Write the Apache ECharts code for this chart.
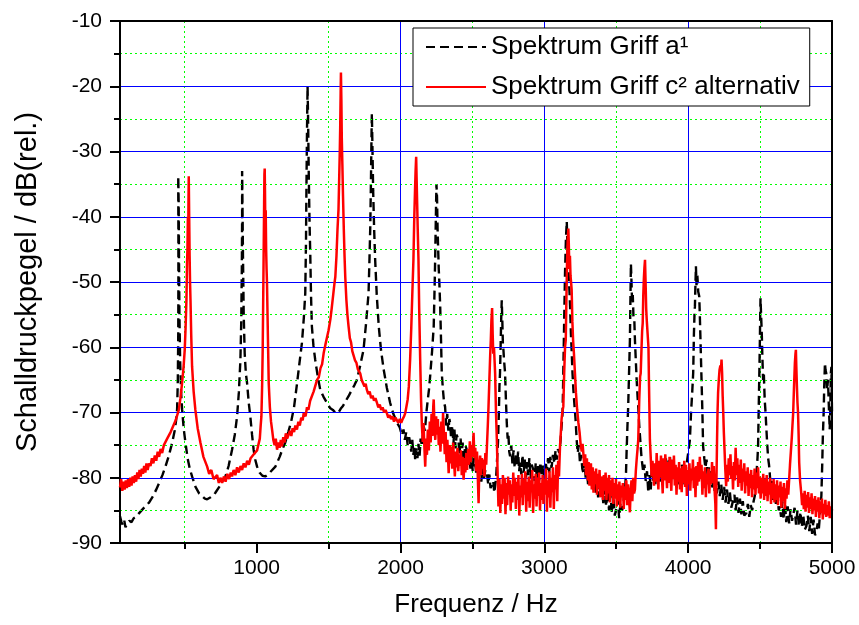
<!DOCTYPE html>
<html>
<head>
<meta charset="utf-8">
<script src="https://cdn.jsdelivr.net/npm/echarts@6/dist/echarts.min.js"></script>
<style>
html,body{margin:0;padding:0;background:#fff;}
#chart{width:859px;height:625px;}
</style>
</head>
<body>
<div id="chart"></div>
<script>
// ---- Data (frequency Hz, level dB rel.) ----
const seriesNames = ['Spektrum Griff a\u00B9', 'Spektrum Griff c\u00B2 alternativ'];
const xMajorTicks = [1000, 2000, 3000, 4000, 5000];
const xMinorTicks = [500, 1500, 2500, 3500, 4500];
const yRange = [-90, -10];
const xRange = [50, 5000];

const spectrumA = [
[50,-85.9],[60,-86.8],[70,-87.3],[80,-86.6],[88,-87.6],[100,-87.0],[115,-86.6],[130,-86.8],[145,-86.2],[160,-86.0],[180,-85.5],[200,-85.0],[225,-84.4],[252,-83.8],[280,-82.8],[300,-81.9],[322,-80.8],[345,-79.6],[366,-78.3],[390,-76.6],[413,-74.6],[430,-72.8],[440,-71.2],[447,-69.5],[452,-65],[455,-58],[456,-50],[456,-42],[455,-36],[455,-33.8],[458,-38],[460,-46],[463,-55],[468,-62],[475,-67],[482,-69.6],[493,-72.5],[505,-74.6],[520,-77],[535,-78.6],[551,-79.8],[575,-81.4],[600,-82.4],[621,-82.8],[640,-83.2],[656,-83.3],[680,-83.0],[700,-82.7],[713,-82.3],[740,-81.4],[760,-80.6],[783,-79.8],[805,-78.2],[829,-75.7],[848,-73.4],[864,-70.6],[876,-67],[887,-62],[893,-56],[897,-48],[899,-40],[899,-33],[901,-37],[905,-46],[910,-55],[917,-61],[925,-64],[933,-65.4],[945,-68.5],[956,-70.6],[968,-73.4],[979,-75.7],[990,-77.2],[1003,-78.3],[1020,-79.2],[1040,-79.7],[1060,-79.8],[1080,-79.5],[1100,-79.0],[1130,-78.3],[1160,-76.8],[1180,-75.6],[1199,-74.6],[1220,-73.0],[1240,-71.4],[1260,-69.2],[1281,-65.5],[1300,-62.0],[1315,-59.3],[1328,-55.5],[1338,-51.7],[1343,-44],[1346,-36],[1350,-27],[1354,-20],[1357,-24],[1362,-33],[1367,-40],[1373,-46],[1378,-52],[1384,-56.8],[1395,-59.8],[1407,-61.9],[1425,-64.5],[1442,-66.5],[1465,-67.6],[1488,-68.5],[1510,-69.3],[1530,-69.6],[1550,-70.1],[1569,-70.0],[1585,-69.4],[1600,-69.0],[1620,-68.2],[1639,-67.5],[1660,-66.6],[1680,-65.8],[1697,-65.0],[1720,-62.8],[1743,-60.4],[1760,-56.5],[1778,-51.7],[1785,-46],[1790,-41.5],[1795,-34],[1799,-27],[1801,-24.2],[1804,-28],[1810,-36],[1817,-42],[1824,-46.6],[1835,-52],[1849,-56.8],[1865,-60.5],[1883,-63.4],[1905,-66.2],[1928,-68.5],[1950,-70.2],[1977,-71.6],[1995,-72.3],[2010,-73.5],[2021,-72.6],[2030,-74.2],[2040,-73.0],[2050,-75.0],[2060,-73.8],[2067,-74.6],[2075,-76.0],[2082,-74.2],[2090,-76.5],[2097,-75.2],[2102,-77.2],[2110,-75.5],[2118,-77.0],[2125,-74.8],[2133,-76.6],[2140,-74.0],[2150,-75.2],[2160,-72.1],[2170,-72.8],[2180,-70.0],[2190,-68.0],[2198,-66.5],[2206,-64.5],[2220,-60.5],[2231,-56.8],[2238,-50],[2241,-46.6],[2246,-40],[2250,-35.0],[2254,-37],[2258,-42],[2262,-45],[2266,-48],[2270,-50],[2276,-53.7],[2282,-59],[2287,-63.9],[2295,-66.5],[2303,-68.5],[2310,-69.1],[2318,-72.0],[2325,-70.2],[2333,-72.8],[2340,-71.0],[2345,-71.6],[2352,-74.0],[2360,-72.0],[2368,-74.8],[2375,-72.6],[2383,-75.5],[2390,-73.4],[2403,-74.2],[2410,-76.5],[2418,-74.0],[2425,-76.8],[2432,-74.6],[2440,-77.5],[2450,-75.0],[2461,-75.7],[2470,-78.0],[2478,-76.0],[2486,-78.6],[2494,-76.5],[2502,-79.0],[2510,-77.0],[2519,-77.7],[2528,-79.6],[2536,-77.5],[2545,-80.0],[2553,-78.0],[2562,-80.6],[2570,-78.4],[2580,-80.2],[2590,-78.8],[2600,-79.2],[2610,-81.0],[2618,-79.5],[2626,-81.6],[2635,-81.3],[2645,-80.5],[2652,-82.3],[2658,-82.3],[2665,-80.0],[2672,-77.0],[2678,-74.5],[2684,-70.0],[2688,-66.0],[2692,-63.9],[2697,-59.0],[2701,-55.0],[2704,-52.8],[2708,-56.0],[2712,-59.5],[2716,-60.5],[2720,-62.0],[2727,-63.9],[2733,-68.0],[2739,-71.6],[2745,-74.0],[2750,-73.2],[2756,-76.0],[2762,-76.7],[2770,-75.0],[2778,-77.8],[2786,-75.8],[2794,-78.5],[2802,-76.2],[2810,-78.0],[2818,-76.0],[2825,-79.0],[2831,-77.7],[2840,-79.5],[2848,-76.5],[2856,-79.2],[2864,-77.2],[2872,-80.0],[2880,-77.6],[2888,-79.6],[2896,-77.0],[2904,-80.2],[2912,-78.0],[2924,-78.8],[2932,-80.5],[2940,-77.8],[2948,-80.0],[2956,-78.2],[2964,-80.4],[2972,-77.6],[2980,-79.8],[2990,-78.0],[3000,-80.0],[3008,-77.5],[3017,-78.8],[3026,-77.0],[3034,-79.2],[3042,-76.8],[3050,-78.5],[3060,-76.5],[3070,-77.8],[3078,-75.8],[3086,-77.2],[3095,-75.6],[3104,-76.2],[3112,-74.5],[3121,-74.2],[3127,-70.0],[3132,-63.9],[3138,-56.0],[3144,-48.6],[3150,-43.5],[3156,-40.7],[3160,-44.0],[3164,-47.0],[3168,-45.5],[3172,-50.0],[3176,-52.0],[3179,-53.7],[3185,-58.0],[3190,-60.5],[3196,-64.0],[3202,-66.5],[3210,-69.0],[3217,-71.0],[3225,-74.2],[3232,-76.2],[3240,-75.0],[3248,-77.8],[3256,-76.5],[3264,-78.6],[3271,-79.2],[3280,-77.5],[3288,-80.2],[3296,-78.6],[3304,-81.0],[3312,-79.0],[3320,-80.8],[3330,-79.2],[3341,-81.8],[3350,-79.6],[3358,-82.4],[3366,-80.0],[3374,-83.0],[3382,-80.6],[3390,-82.8],[3400,-81.2],[3410,-83.9],[3420,-81.6],[3430,-84.4],[3440,-82.0],[3450,-85.0],[3460,-82.6],[3470,-85.4],[3480,-83.0],[3490,-85.8],[3503,-85.9],[3512,-83.4],[3520,-86.2],[3530,-83.8],[3540,-85.0],[3549,-84.4],[3556,-82.0],[3562,-81.5],[3568,-79.2],[3572,-76.0],[3578,-72.0],[3583,-69.1],[3589,-64.0],[3595,-58.9],[3599,-52.0],[3602,-47.2],[3606,-50.0],[3610,-53.0],[3615,-52.0],[3620,-55.5],[3626,-56.0],[3630,-58.9],[3636,-62.0],[3642,-65.0],[3648,-67.5],[3653,-69.1],[3660,-72.0],[3668,-74.5],[3676,-77.0],[3688,-79.2],[3696,-78.0],[3705,-80.5],[3714,-79.0],[3723,-82.3],[3732,-79.6],[3740,-81.8],[3748,-78.4],[3756,-80.6],[3764,-78.0],[3772,-81.0],[3780,-78.6],[3788,-80.2],[3796,-77.6],[3804,-80.8],[3812,-78.2],[3820,-80.4],[3828,-77.4],[3836,-79.8],[3845,-77.0],[3853,-80.0],[3862,-77.8],[3873,-76.7],[3882,-79.6],[3890,-77.4],[3898,-80.2],[3906,-78.0],[3914,-80.6],[3922,-78.4],[3930,-81.0],[3940,-78.6],[3948,-80.2],[3956,-78.0],[3965,-79.2],[3975,-81.0],[3985,-78.6],[3995,-77.0],[4003,-75.8],[4012,-74.2],[4020,-70.0],[4028,-67.0],[4035,-63.9],[4040,-58.0],[4044,-55.0],[4047,-53.7],[4051,-50.0],[4054,-47.6],[4058,-50.5],[4064,-49.0],[4070,-51.5],[4077,-52.2],[4081,-55.0],[4087,-60.0],[4093,-65.0],[4099,-70.0],[4104,-75.2],[4112,-77.0],[4120,-78.5],[4128,-77.2],[4136,-80.0],[4144,-78.4],[4151,-80.3],[4160,-79.0],[4168,-81.5],[4176,-79.6],[4184,-82.0],[4192,-80.0],[4200,-82.4],[4210,-80.6],[4220,-82.8],[4230,-81.0],[4240,-83.4],[4250,-81.4],[4260,-83.8],[4270,-81.8],[4280,-84.0],[4290,-82.2],[4300,-84.6],[4313,-84.4],[4322,-82.6],[4330,-85.0],[4340,-83.0],[4350,-85.4],[4360,-83.2],[4370,-85.6],[4380,-83.6],[4390,-85.8],[4405,-85.4],[4415,-84.0],[4425,-86.0],[4435,-84.2],[4445,-85.0],[4455,-83.6],[4463,-82.8],[4470,-81.0],[4476,-79.0],[4482,-77.0],[4486,-75.2],[4490,-70.0],[4494,-65.0],[4498,-59.9],[4501,-55.0],[4503,-52.5],[4507,-55.0],[4512,-58.0],[4516,-61.5],[4521,-65.0],[4526,-64.0],[4532,-68.0],[4538,-70.0],[4544,-72.6],[4550,-75.0],[4556,-77.0],[4562,-78.0],[4567,-79.2],[4575,-82.0],[4583,-80.5],[4591,-83.4],[4600,-81.6],[4610,-84.0],[4620,-82.4],[4630,-85.0],[4637,-84.4],[4646,-86.0],[4655,-83.6],[4664,-86.4],[4673,-84.0],[4682,-86.8],[4692,-84.4],[4702,-87.0],[4712,-84.8],[4722,-86.6],[4730,-86.4],[4740,-84.6],[4750,-87.2],[4760,-85.0],[4770,-87.4],[4780,-85.2],[4790,-87.6],[4800,-85.6],[4810,-88.0],[4822,-87.4],[4832,-85.8],[4842,-88.2],[4852,-86.0],[4862,-88.6],[4872,-86.4],[4882,-88.8],[4892,-88.4],[4900,-87.0],[4908,-88.0],[4915,-86.0],[4920,-84.6],[4926,-82.8],[4932,-78.0],[4936,-74.0],[4942,-70.0],[4946,-66.0],[4951,-62.4],[4955,-63.5],[4960,-64.0],[4966,-66.5],[4972,-65.0],[4978,-69.0],[4984,-72.6],[4988,-70.0],[4992,-64.0],[4996,-63.0],[5000,-70.0]
];

const spectrumC = [
[50,-81.5],[58,-80.2],[66,-82.0],[74,-80.6],[82,-81.8],[90,-80.4],[98,-81.6],[106,-80.2],[114,-81.4],[122,-80.0],[130,-81.2],[138,-79.8],[146,-80.8],[154,-79.6],[162,-80.6],[170,-79.2],[178,-80.2],[186,-78.8],[194,-79.8],[202,-78.6],[210,-79.4],[218,-78.2],[226,-79.2],[234,-77.8],[242,-78.8],[252,-77.8],[262,-78.2],[272,-77.0],[282,-77.8],[292,-76.6],[302,-77.4],[312,-76.0],[322,-76.8],[332,-75.6],[343,-76.2],[355,-75.0],[366,-75.2],[378,-74.0],[390,-74.2],[402,-73.0],[413,-73.1],[425,-71.8],[437,-71.2],[448,-70.4],[459,-69.6],[470,-67.8],[482,-65.4],[492,-63.0],[500,-60.4],[506,-57.0],[512,-52.7],[516,-47.0],[519,-45.0],[522,-40.0],[524,-44.0],[526,-38.0],[528,-33.8],[531,-40.0],[534,-46.0],[537,-50.0],[540,-52.7],[545,-58.0],[551,-62.9],[562,-66.8],[574,-69.6],[590,-72.4],[609,-74.6],[630,-76.8],[656,-78.3],[670,-79.4],[685,-78.8],[700,-80.2],[713,-80.3],[725,-79.6],[737,-80.8],[748,-80.0],[760,-80.8],[772,-79.8],[784,-80.6],[796,-79.4],[808,-80.2],[820,-79.2],[829,-79.8],[840,-78.8],[852,-79.6],[864,-78.4],[876,-79.2],[888,-78.2],[899,-78.8],[910,-77.8],[922,-78.4],[934,-77.4],[946,-78.0],[958,-77.0],[968,-77.2],[980,-76.4],[992,-76.6],[1003,-75.8],[1014,-75.7],[1022,-74.0],[1028,-72.0],[1033,-70.6],[1038,-66.0],[1042,-60.4],[1045,-54.0],[1049,-45.0],[1052,-38.0],[1054,-33.5],[1056,-32.6],[1058,-36.0],[1060,-41.0],[1063,-39.0],[1066,-45.0],[1069,-48.0],[1072,-50.2],[1078,-58.0],[1084,-65.5],[1092,-69.2],[1100,-71.4],[1107,-72.6],[1116,-74.2],[1125,-75.0],[1133,-74.0],[1142,-75.7],[1150,-74.6],[1160,-75.4],[1168,-74.2],[1176,-75.2],[1185,-73.8],[1194,-74.6],[1203,-73.2],[1212,-74.0],[1223,-73.7],[1232,-72.8],[1241,-73.6],[1250,-72.4],[1260,-73.0],[1269,-72.0],[1280,-72.6],[1290,-71.4],[1300,-72.0],[1310,-70.8],[1320,-71.2],[1327,-70.1],[1340,-70.6],[1350,-69.2],[1360,-69.6],[1372,-68.2],[1384,-68.4],[1396,-66.8],[1408,-66.6],[1420,-65.0],[1432,-64.6],[1444,-63.2],[1455,-62.6],[1466,-60.9],[1478,-59.6],[1490,-58.4],[1500,-57.4],[1512,-55.8],[1522,-54.0],[1532,-52.0],[1540,-50.4],[1547,-49.2],[1555,-46.0],[1562,-42.0],[1569,-38.9],[1574,-34.0],[1578,-30.0],[1581,-26.2],[1584,-21.0],[1586,-17.9],[1589,-22.0],[1592,-28.0],[1596,-32.0],[1600,-36.4],[1606,-42.0],[1611,-46.0],[1616,-49.2],[1624,-52.8],[1631,-55.0],[1639,-56.8],[1648,-58.6],[1656,-59.2],[1665,-60.6],[1674,-60.9],[1684,-62.0],[1694,-62.4],[1704,-63.4],[1712,-63.2],[1720,-64.0],[1730,-65.0],[1740,-64.8],[1750,-66.0],[1758,-65.6],[1766,-66.5],[1776,-67.2],[1786,-66.8],[1796,-67.8],[1806,-67.4],[1816,-68.2],[1826,-67.8],[1836,-68.5],[1846,-69.2],[1856,-68.8],[1866,-69.6],[1876,-69.2],[1886,-70.0],[1896,-69.6],[1905,-70.1],[1915,-70.8],[1925,-70.4],[1935,-71.0],[1945,-70.6],[1955,-71.4],[1965,-70.8],[1975,-71.1],[1985,-71.6],[1995,-71.0],[2005,-71.6],[2015,-71.0],[2025,-70.6],[2033,-70.1],[2042,-69.0],[2050,-68.0],[2058,-66.0],[2067,-61.9],[2075,-57.0],[2082,-52.0],[2090,-46.6],[2096,-40.0],[2101,-36.0],[2105,-33.0],[2109,-30.8],[2112,-34.0],[2116,-38.0],[2120,-42.0],[2125,-46.6],[2130,-54.0],[2137,-61.9],[2143,-68.0],[2149,-72.1],[2155,-74.5],[2160,-71.6],[2166,-75.2],[2172,-78.3],[2178,-74.0],[2184,-76.5],[2190,-72.6],[2197,-75.8],[2204,-71.4],[2210,-74.6],[2216,-70.2],[2222,-73.6],[2228,-69.0],[2231,-68.0],[2236,-72.0],[2242,-74.2],[2248,-70.6],[2254,-73.4],[2260,-71.0],[2266,-75.0],[2272,-72.2],[2278,-76.0],[2284,-71.4],[2290,-74.8],[2296,-70.1],[2302,-73.2],[2308,-76.4],[2314,-73.0],[2320,-77.6],[2326,-74.2],[2335,-79.3],[2342,-75.0],[2348,-77.8],[2354,-75.2],[2360,-78.6],[2366,-74.6],[2372,-77.2],[2378,-79.8],[2384,-76.0],[2390,-78.4],[2396,-75.4],[2402,-79.0],[2408,-76.4],[2414,-78.2],[2420,-75.8],[2426,-79.6],[2432,-76.8],[2439,-80.3],[2445,-77.0],[2451,-79.2],[2457,-76.2],[2463,-78.8],[2470,-75.6],[2476,-78.0],[2482,-74.4],[2488,-77.6],[2494,-75.0],[2500,-76.8],[2508,-73.1],[2514,-77.0],[2520,-75.4],[2526,-79.0],[2532,-76.0],[2538,-80.2],[2543,-83.9],[2548,-78.4],[2554,-76.6],[2560,-79.6],[2566,-77.0],[2572,-78.6],[2578,-77.2],[2584,-79.8],[2590,-76.2],[2596,-78.0],[2602,-74.6],[2607,-72.0],[2612,-69.1],[2618,-65.0],[2624,-61.0],[2628,-58.9],[2632,-56.0],[2637,-54.0],[2641,-58.0],[2645,-61.0],[2650,-60.0],[2654,-62.0],[2658,-64.0],[2664,-70.0],[2670,-74.2],[2676,-80.0],[2681,-84.4],[2688,-80.2],[2694,-85.4],[2700,-81.0],[2706,-84.0],[2712,-79.6],[2718,-83.2],[2724,-80.0],[2730,-85.6],[2736,-80.8],[2742,-84.2],[2748,-79.8],[2754,-82.6],[2760,-80.4],[2766,-85.0],[2772,-81.0],[2778,-83.8],[2784,-79.2],[2790,-82.8],[2796,-80.0],[2802,-84.8],[2808,-80.6],[2814,-83.4],[2820,-79.6],[2826,-85.8],[2832,-81.2],[2838,-83.0],[2844,-79.4],[2850,-84.2],[2856,-80.2],[2862,-82.6],[2868,-79.0],[2874,-85.2],[2880,-80.6],[2886,-83.6],[2892,-79.8],[2898,-84.6],[2904,-80.4],[2910,-82.2],[2916,-78.8],[2922,-85.4],[2928,-81.0],[2934,-83.2],[2940,-79.4],[2946,-84.4],[2952,-80.0],[2958,-82.8],[2964,-79.2],[2970,-85.0],[2976,-80.8],[2982,-83.4],[2988,-79.6],[2994,-84.0],[3000,-80.2],[3006,-82.6],[3012,-78.6],[3018,-85.2],[3024,-80.4],[3030,-83.0],[3036,-79.0],[3042,-84.6],[3048,-80.0],[3054,-82.2],[3060,-78.4],[3066,-84.8],[3072,-79.6],[3078,-81.8],[3084,-78.0],[3090,-83.6],[3096,-77.4],[3102,-79.8],[3109,-75.2],[3115,-73.0],[3120,-71.0],[3126,-69.8],[3132,-69.1],[3138,-64.0],[3144,-60.0],[3149,-58.9],[3154,-52.0],[3158,-47.0],[3162,-44.0],[3167,-41.8],[3170,-44.0],[3174,-48.0],[3178,-46.0],[3182,-49.0],[3186,-50.0],[3190,-51.2],[3195,-56.0],[3200,-58.9],[3206,-61.0],[3213,-64.0],[3220,-67.0],[3228,-69.5],[3237,-71.6],[3245,-73.0],[3252,-74.8],[3260,-76.0],[3266,-74.8],[3271,-76.2],[3278,-78.2],[3284,-76.4],[3290,-79.6],[3296,-77.0],[3302,-80.4],[3308,-77.6],[3314,-81.2],[3318,-79.3],[3324,-77.8],[3330,-81.8],[3336,-78.4],[3342,-82.3],[3348,-79.0],[3354,-81.0],[3360,-78.6],[3366,-82.6],[3372,-79.4],[3378,-81.6],[3384,-78.8],[3390,-83.0],[3396,-79.8],[3402,-80.3],[3408,-83.4],[3414,-79.6],[3420,-82.0],[3426,-79.2],[3432,-83.4],[3438,-80.0],[3444,-82.4],[3450,-79.6],[3456,-83.8],[3462,-80.4],[3468,-82.8],[3474,-80.0],[3480,-84.0],[3486,-80.8],[3492,-83.2],[3498,-80.2],[3504,-84.4],[3510,-81.0],[3516,-83.6],[3522,-80.6],[3528,-84.6],[3534,-81.2],[3540,-83.0],[3546,-80.8],[3552,-84.8],[3558,-81.4],[3564,-83.4],[3570,-80.4],[3576,-84.2],[3582,-81.0],[3588,-83.0],[3595,-85.3],[3600,-82.0],[3606,-80.4],[3612,-83.6],[3618,-80.0],[3624,-82.4],[3630,-81.8],[3636,-79.0],[3642,-77.2],[3648,-75.6],[3653,-74.2],[3660,-68.0],[3666,-64.5],[3670,-64.0],[3676,-60.0],[3680,-57.5],[3684,-56.3],[3688,-52.0],[3692,-49.5],[3696,-47.8],[3700,-46.6],[3704,-50.0],[3708,-54.0],[3712,-55.8],[3716,-56.0],[3720,-55.6],[3724,-60.0],[3728,-66.0],[3734,-74.2],[3740,-77.0],[3746,-79.8],[3752,-77.4],[3757,-79.3],[3763,-81.2],[3769,-77.8],[3775,-80.6],[3781,-76.2],[3787,-79.4],[3793,-81.8],[3799,-77.4],[3805,-80.0],[3811,-76.6],[3817,-79.6],[3823,-82.4],[3829,-77.0],[3835,-80.4],[3841,-76.4],[3847,-79.0],[3853,-81.6],[3859,-77.6],[3865,-80.8],[3871,-76.8],[3877,-79.8],[3883,-82.0],[3889,-77.2],[3895,-80.2],[3901,-76.6],[3907,-81.2],[3913,-78.0],[3919,-82.6],[3925,-78.4],[3931,-80.6],[3937,-77.6],[3943,-81.8],[3949,-78.6],[3955,-82.2],[3961,-78.2],[3967,-80.8],[3973,-77.4],[3979,-81.4],[3985,-78.0],[3991,-82.8],[3997,-78.8],[4003,-81.0],[4009,-77.8],[4015,-82.0],[4021,-78.6],[4027,-80.4],[4033,-77.2],[4039,-81.6],[4045,-78.4],[4051,-83.0],[4057,-78.2],[4063,-81.2],[4069,-77.6],[4075,-80.6],[4081,-76.8],[4087,-80.2],[4093,-78.0],[4099,-82.6],[4105,-79.0],[4111,-81.6],[4117,-78.4],[4123,-83.0],[4129,-79.4],[4135,-81.0],[4141,-78.6],[4147,-82.4],[4153,-79.2],[4160,-81.0],[4166,-77.6],[4172,-80.8],[4178,-78.2],[4184,-82.0],[4189,-84.0],[4193,-87.9],[4197,-80.0],[4201,-74.0],[4204,-70.1],[4208,-67.0],[4213,-65.0],[4218,-63.5],[4224,-62.8],[4228,-63.4],[4232,-61.9],[4236,-64.0],[4240,-67.5],[4244,-70.0],[4248,-73.0],[4252,-75.2],[4258,-78.6],[4264,-81.3],[4270,-78.0],[4276,-80.6],[4282,-77.0],[4288,-79.6],[4294,-76.4],[4300,-80.2],[4306,-78.2],[4312,-81.8],[4318,-77.6],[4324,-80.4],[4330,-75.4],[4336,-79.6],[4342,-77.0],[4348,-81.4],[4354,-78.0],[4360,-80.8],[4366,-77.2],[4372,-82.0],[4378,-78.6],[4384,-80.6],[4390,-77.8],[4396,-82.4],[4402,-79.0],[4408,-81.2],[4414,-78.4],[4420,-82.8],[4426,-79.4],[4432,-81.6],[4438,-78.8],[4444,-83.0],[4450,-79.6],[4456,-81.8],[4462,-78.6],[4468,-82.6],[4474,-79.2],[4480,-81.6],[4486,-78.4],[4492,-82.4],[4498,-79.8],[4504,-83.2],[4510,-80.0],[4516,-82.4],[4522,-79.4],[4528,-83.4],[4534,-80.2],[4540,-82.8],[4546,-79.6],[4552,-83.6],[4558,-80.6],[4564,-82.6],[4570,-80.0],[4576,-84.0],[4582,-80.8],[4588,-83.2],[4594,-80.2],[4600,-83.8],[4606,-81.0],[4612,-83.4],[4618,-80.4],[4624,-84.2],[4630,-81.2],[4636,-83.0],[4642,-80.6],[4648,-84.6],[4654,-81.4],[4660,-83.6],[4666,-80.8],[4672,-84.8],[4678,-81.6],[4684,-83.2],[4690,-80.4],[4696,-82.6],[4702,-80.3],[4708,-78.0],[4714,-76.0],[4720,-74.0],[4725,-72.0],[4730,-70.1],[4736,-66.0],[4742,-62.4],[4746,-61.0],[4749,-60.4],[4752,-63.0],[4756,-66.0],[4760,-68.5],[4764,-70.1],[4768,-73.5],[4772,-77.7],[4778,-80.4],[4786,-82.3],[4792,-84.2],[4798,-82.4],[4804,-84.8],[4810,-82.0],[4816,-85.2],[4822,-82.6],[4828,-84.6],[4834,-82.2],[4840,-85.4],[4846,-83.0],[4852,-84.8],[4858,-82.4],[4864,-85.6],[4870,-83.2],[4876,-85.0],[4882,-82.8],[4888,-86.0],[4894,-83.4],[4900,-85.2],[4906,-83.0],[4912,-86.2],[4918,-83.6],[4924,-85.4],[4930,-83.2],[4936,-86.4],[4942,-84.0],[4948,-85.6],[4954,-83.4],[4960,-86.0],[4966,-84.2],[4972,-85.8],[4978,-83.6],[4984,-86.2],[4990,-84.4],[4997,-85.4],[5000,-84.8]
];

// ---- Chart ----
const FONT = "'Liberation Sans', Arial, sans-serif";
const chart = echarts.init(document.getElementById('chart'), null, {renderer: 'canvas'});
const blue = '#0000ff', green = '#00ff00';

const option = {
  animation: false,
  backgroundColor: '#ffffff',
  textStyle: {fontFamily: FONT, color: '#000'},
  grid: {left: 120, right: 27, top: 21, bottom: 82, containLabel: false},
  legend: {
    orient: 'vertical', left: 413, top: 28,
    padding: [4, 10, 4, 12],
    itemGap: 10, itemWidth: 60, itemHeight: 14,
    backgroundColor: '#fff', borderColor: '#000', borderWidth: 1,
    itemStyle: {opacity: 0, borderWidth: 0},
    textStyle: {fontFamily: FONT, fontSize: 26, color: '#000', lineHeight: 30},
    data: seriesNames
  },
  xAxis: [
    {
      type: 'value', min: xRange[0], max: xRange[1], position: 'bottom', z: 3,
      name: 'Frequenz / Hz', nameLocation: 'middle', nameGap: 49,
      nameTextStyle: {fontFamily: FONT, fontSize: 26, color: '#000'},
      axisLine: {show: true, onZero: false, lineStyle: {color: '#000', width: 2}},
      axisTick: {show: true, customValues: xMajorTicks, length: 10, lineStyle: {color: '#000', width: 2}},
      axisLabel: {customValues: xMajorTicks, fontFamily: FONT, fontSize: 21, color: '#000', margin: 15,
                  formatter: function (v) { return String(v); }},
      splitLine: {show: true, showMinLine: false, showMaxLine: false, lineStyle: {color: blue, width: 1}}
    },
    {
      type: 'value', min: xRange[0], max: xRange[1], position: 'bottom', z: 2,
      axisLine: {show: false},
      axisTick: {show: true, customValues: xMinorTicks, length: 6, lineStyle: {color: '#000', width: 2}},
      axisLabel: {show: false},
      splitLine: {show: true, lineStyle: {color: green, width: 1, type: [2, 3]}}
    },
    {
      type: 'value', min: xRange[0], max: xRange[1], position: 'top', z: 4,
      axisLine: {show: true, onZero: false, lineStyle: {color: '#000', width: 2}},
      axisTick: {show: false}, axisLabel: {show: false}, splitLine: {show: false}
    }
  ],
  yAxis: [
    {
      type: 'value', min: yRange[0], max: yRange[1], interval: 10, position: 'left', z: 3,
      name: 'Schalldruckpegel / dB(rel.)', nameLocation: 'middle', nameGap: 78,
      nameTextStyle: {fontFamily: FONT, fontSize: 29, color: '#000'},
      axisLine: {show: true, onZero: false, lineStyle: {color: '#000', width: 2}},
      axisTick: {show: true, length: 10, lineStyle: {color: '#000', width: 2}},
      minorTick: {show: true, splitNumber: 2, length: 6, lineStyle: {color: '#000', width: 2}},
      axisLabel: {fontFamily: FONT, fontSize: 21, color: '#000', margin: 18},
      splitLine: {show: true, showMinLine: false, showMaxLine: false, lineStyle: {color: blue, width: 1}},
      minorSplitLine: {show: true, lineStyle: {color: green, width: 1, type: [2, 3]}}
    },
    {
      type: 'value', min: yRange[0], max: yRange[1], position: 'right', z: 4,
      axisLine: {show: true, onZero: false, lineStyle: {color: '#000', width: 2}},
      axisTick: {show: false}, axisLabel: {show: false}, splitLine: {show: false}
    }
  ],
  series: [
    {
      name: seriesNames[0], type: 'line', xAxisIndex: 0, yAxisIndex: 0,
      data: spectrumA, symbol: 'none', showSymbol: false, clip: true,
      lineStyle: {color: '#000', width: 2.4, type: [9, 5]},
      itemStyle: {color: '#000'}, z: 2
    },
    {
      name: seriesNames[1], type: 'line', xAxisIndex: 0, yAxisIndex: 0,
      data: spectrumC, symbol: 'none', showSymbol: false, clip: true,
      lineStyle: {color: '#ff0000', width: 2.5},
      itemStyle: {color: '#ff0000'}, z: 3
    }
  ]
};
chart.setOption(option);
</script>
</body>
</html>
